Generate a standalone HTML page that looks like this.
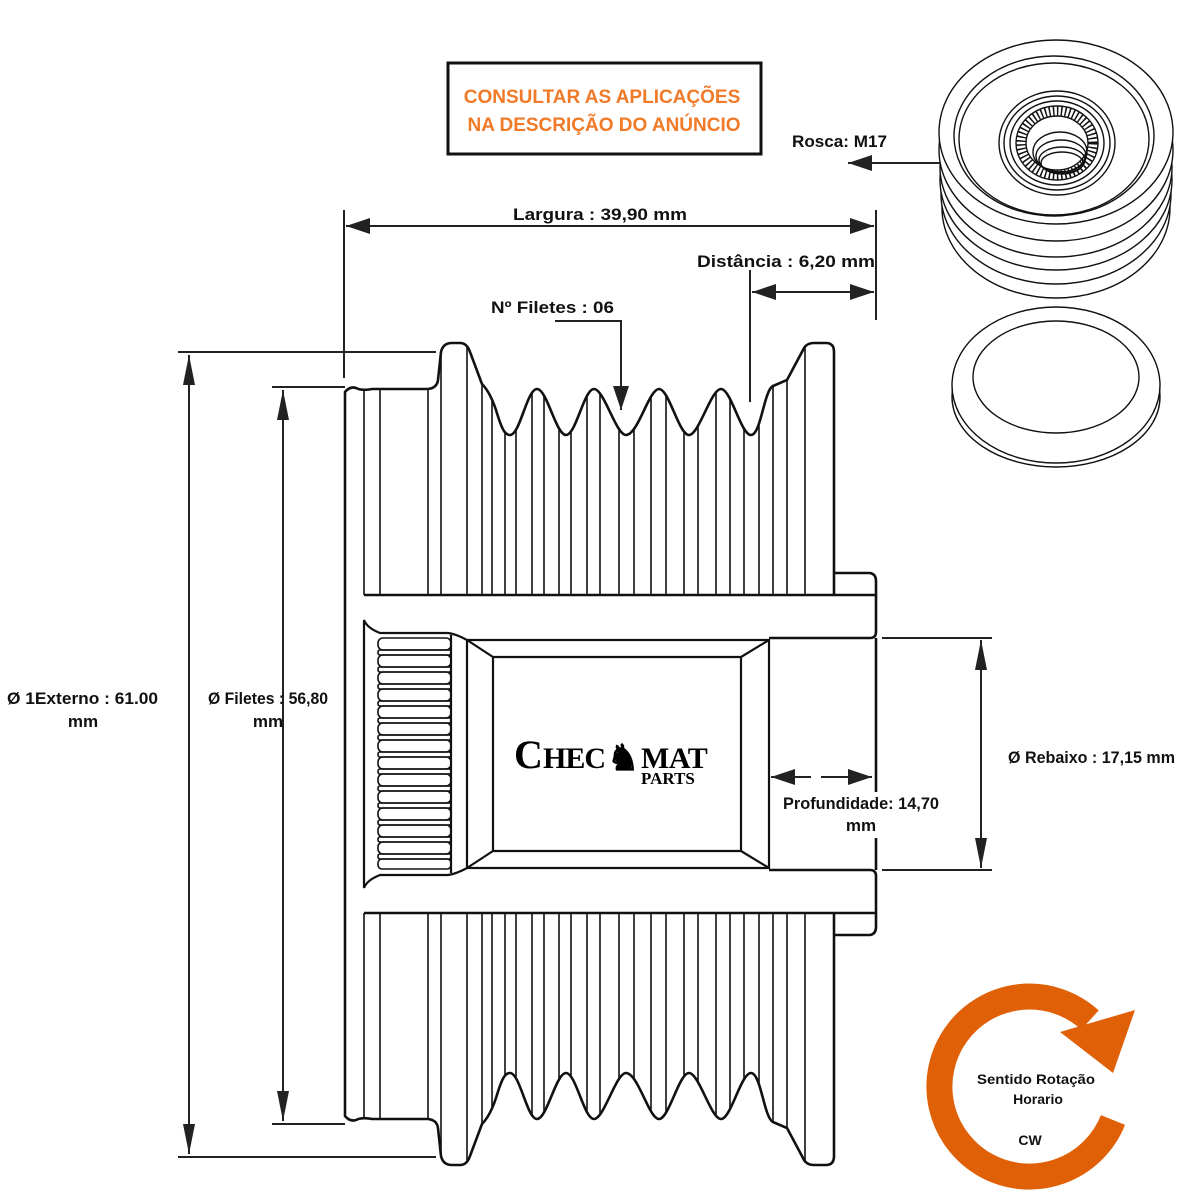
<!DOCTYPE html>
<html><head><meta charset="utf-8"><style>
html,body{margin:0;padding:0;background:#fff;}
svg{display:block;}
.t{font-family:"Liberation Sans",sans-serif;font-weight:bold;font-size:17px;fill:#111;}
</style></head><body>
<svg width="1200" height="1200" viewBox="0 0 1200 1200" xmlns="http://www.w3.org/2000/svg">
<defs>
<clipPath id="prof"><path d="M345,595 L345,392 Q350,386 356,388 Q362,391 372,389 L428,389 Q437,388 438,380 L441,352 Q443,343 452,343 L460,343 Q467,343 470,352 L482,384 Q490,392 496,410 C502,430 505,435 510,435 C520,435 527,389 537,389 C547,389 556,435 566,435 C576,435 584,389 594,389 C604,389 616,435 626,435 C638,435 649,389 659,389 C669,389 679,435 689,435 C699,435 711,389 721,389 C731,389 741,435 751,435 C761,435 764,390 773,386 L787,380 L803,350 Q806,343 814,343 L826,343 Q834,343 834,352 L834,595 Z"/></clipPath>
<g id="upper">
<g clip-path="url(#prof)" stroke="#111" stroke-width="1.6">
<line x1="364" y1="300" x2="364" y2="595"/><line x1="380" y1="300" x2="380" y2="595"/><line x1="428" y1="300" x2="428" y2="595"/>
<line x1="441" y1="300" x2="441" y2="595"/><line x1="467" y1="300" x2="467" y2="595"/><line x1="482" y1="300" x2="482" y2="595"/>
<line x1="492" y1="300" x2="492" y2="595"/><line x1="505" y1="300" x2="505" y2="595"/><line x1="516" y1="300" x2="516" y2="595"/>
<line x1="532" y1="300" x2="532" y2="595"/><line x1="544" y1="300" x2="544" y2="595"/><line x1="559" y1="300" x2="559" y2="595"/>
<line x1="571" y1="300" x2="571" y2="595"/><line x1="587" y1="300" x2="587" y2="595"/><line x1="600" y1="300" x2="600" y2="595"/>
<line x1="619" y1="300" x2="619" y2="595"/><line x1="634" y1="300" x2="634" y2="595"/><line x1="651" y1="300" x2="651" y2="595"/>
<line x1="666" y1="300" x2="666" y2="595"/><line x1="684" y1="300" x2="684" y2="595"/><line x1="698" y1="300" x2="698" y2="595"/>
<line x1="716" y1="300" x2="716" y2="595"/><line x1="730" y1="300" x2="730" y2="595"/><line x1="744" y1="300" x2="744" y2="595"/>
<line x1="759" y1="300" x2="759" y2="595"/><line x1="773" y1="300" x2="773" y2="595"/><line x1="787" y1="300" x2="787" y2="595"/>
<line x1="805" y1="300" x2="805" y2="595"/>
</g>
<path fill="none" stroke="#111" stroke-width="2.6" d="M345,754 L345,392 Q350,386 356,388 Q362,391 372,389 L428,389 Q437,388 438,380 L441,352 Q443,343 452,343 L460,343 Q467,343 470,352 L482,384 Q490,392 496,410 C502,430 505,435 510,435 C520,435 527,389 537,389 C547,389 556,435 566,435 C576,435 584,389 594,389 C604,389 616,435 626,435 C638,435 649,389 659,389 C669,389 679,435 689,435 C699,435 711,389 721,389 C731,389 741,435 751,435 C761,435 764,390 773,386 L787,380 L803,350 Q806,343 814,343 L826,343 Q834,343 834,352 L834,595"/>
<path fill="none" stroke="#111" stroke-width="2.6" d="M834,573 L870,573 Q876,574 876,581 L876,632 Q876,638 870,638 L769,638 M876,638 L876,754 M364,595 L876,595"/>
<path fill="none" stroke="#111" stroke-width="2.2" d="M364,754 L364,620 Q367,628 380,633 L448,633 Q456,634 467,640 L769,640 L769,754 M451,635 L451,754 M467,640 L467,754 M493,657 L741,657 M493,657 L493,754 M741,657 L741,754 M467,640 L493,657 M769,640 L741,657"/>
</g>
<marker id="ah" viewBox="0 0 30 12" refX="30" refY="6" markerWidth="30" markerHeight="12" markerUnits="userSpaceOnUse" orient="auto-start-reverse"><path d="M0,0 L30,6 L0,12 Z" fill="#222"/></marker>
<marker id="ah2" viewBox="0 0 24 16" refX="24" refY="8" markerWidth="24" markerHeight="16" markerUnits="userSpaceOnUse" orient="auto-start-reverse"><path d="M0,0 L24,8 L0,16 Z" fill="#222"/></marker>
</defs>

<use href="#upper"/>
<use href="#upper" transform="translate(0,1508) scale(1,-1)"/>

<g fill="none" stroke="#111" stroke-width="1.6">
<rect x="378" y="638" width="73" height="12" rx="5"/><rect x="378" y="650" width="73" height="5" rx="2"/>
<rect x="378" y="655" width="73" height="12" rx="5"/><rect x="378" y="667" width="73" height="5" rx="2"/>
<rect x="378" y="672" width="73" height="12" rx="5"/><rect x="378" y="684" width="73" height="5" rx="2"/>
<rect x="378" y="689" width="73" height="12" rx="5"/><rect x="378" y="701" width="73" height="5" rx="2"/>
<rect x="378" y="706" width="73" height="12" rx="5"/><rect x="378" y="718" width="73" height="5" rx="2"/>
<rect x="378" y="723" width="73" height="12" rx="5"/><rect x="378" y="735" width="73" height="5" rx="2"/>
<rect x="378" y="740" width="73" height="12" rx="5"/><rect x="378" y="752" width="73" height="5" rx="2"/>
<rect x="378" y="757" width="73" height="12" rx="5"/><rect x="378" y="769" width="73" height="5" rx="2"/>
<rect x="378" y="774" width="73" height="12" rx="5"/><rect x="378" y="786" width="73" height="5" rx="2"/>
<rect x="378" y="791" width="73" height="12" rx="5"/><rect x="378" y="803" width="73" height="5" rx="2"/>
<rect x="378" y="808" width="73" height="12" rx="5"/><rect x="378" y="820" width="73" height="5" rx="2"/>
<rect x="378" y="825" width="73" height="12" rx="5"/><rect x="378" y="837" width="73" height="5" rx="2"/>
<rect x="378" y="842" width="73" height="12" rx="5"/><rect x="378" y="854" width="73" height="5" rx="2"/>
<rect x="378" y="859" width="73" height="10" rx="4"/>
</g>

<g font-family="Liberation Serif,serif" font-weight="bold" fill="#000">
<text x="514" y="768" font-size="40">C</text>
<text x="543" y="768" font-size="30" letter-spacing="-1">HEC</text>
<text x="607" y="770" font-size="36">♞</text>
<text x="641" y="768" font-size="30" letter-spacing="-0.5">MAT</text>
<text x="641" y="784" font-size="17">PARTS</text>
</g>

<g stroke="#222" stroke-width="2" fill="none">
<line x1="178" y1="352" x2="436" y2="352"/><line x1="178" y1="1157" x2="436" y2="1157"/>
<line x1="189" y1="355" x2="189" y2="1154" marker-start="url(#ah)" marker-end="url(#ah)"/>
<line x1="272" y1="387" x2="345" y2="387"/><line x1="272" y1="1124" x2="345" y2="1124"/>
<line x1="283" y1="390" x2="283" y2="1121" marker-start="url(#ah)" marker-end="url(#ah)"/>
<line x1="344" y1="210" x2="344" y2="378"/><line x1="876" y1="210" x2="876" y2="320"/>
<line x1="346" y1="226" x2="874" y2="226" marker-start="url(#ah2)" marker-end="url(#ah2)"/>
<line x1="750" y1="270" x2="750" y2="402"/>
<line x1="752" y1="292" x2="874" y2="292" marker-start="url(#ah2)" marker-end="url(#ah2)"/>
<polyline points="555,321 621,321 621,410" marker-end="url(#ah2)"/>
<line x1="1030" y1="163" x2="848" y2="163" marker-end="url(#ah2)"/>
<line x1="882" y1="638" x2="992" y2="638"/><line x1="882" y1="870" x2="992" y2="870"/>
<line x1="981" y1="640" x2="981" y2="868" marker-start="url(#ah)" marker-end="url(#ah)"/>
<line x1="771" y1="777" x2="872" y2="777" stroke-dasharray="40,10,60" marker-start="url(#ah2)" marker-end="url(#ah2)"/>
</g>

<rect x="448" y="63" width="313" height="91" fill="#fff" stroke="#111" stroke-width="3"/>
<text x="602" y="103" text-anchor="middle" font-family="Liberation Sans,sans-serif" font-weight="bold" font-size="19" fill="#f07a28">CONSULTAR AS APLICAÇÕES</text>
<text x="604" y="131" text-anchor="middle" font-family="Liberation Sans,sans-serif" font-weight="bold" font-size="19" fill="#f07a28">NA DESCRIÇÃO DO ANÚNCIO</text>
<text class="t" x="513" y="220" textLength="174" lengthAdjust="spacingAndGlyphs">Largura : 39,90 mm</text>
<text class="t" x="697" y="267" textLength="178" lengthAdjust="spacingAndGlyphs">Distância : 6,20 mm</text>
<text class="t" x="491" y="313" textLength="123" lengthAdjust="spacingAndGlyphs">Nº Filetes : 06</text>
<text class="t" x="792" y="147" textLength="95" lengthAdjust="spacingAndGlyphs">Rosca: M17</text>
<text class="t" x="7" y="704" textLength="151" lengthAdjust="spacingAndGlyphs">Ø 1Externo : 61.00</text>
<text class="t" x="83" y="727" text-anchor="middle">mm</text>
<text class="t" x="208" y="704" textLength="120" lengthAdjust="spacingAndGlyphs">Ø Filetes : 56,80</text>
<text class="t" x="268" y="727" text-anchor="middle">mm</text>
<text class="t" x="1008" y="763" textLength="167" lengthAdjust="spacingAndGlyphs">Ø Rebaixo : 17,15 mm</text>
<rect x="782" y="792" width="160" height="46" fill="#fff"/>
<text class="t" x="783" y="809" textLength="156" lengthAdjust="spacingAndGlyphs">Profundidade: 14,70</text>
<text class="t" x="861" y="831" text-anchor="middle">mm</text>

<g stroke="#111" stroke-width="1.4" fill="#fff">
<ellipse cx="1056" cy="208" rx="114" ry="90"/>
<ellipse cx="1056" cy="194" rx="115" ry="90"/>
<ellipse cx="1056" cy="180" rx="116" ry="90"/>
<ellipse cx="1056" cy="167" rx="116" ry="90"/>
<ellipse cx="1056" cy="150" rx="117" ry="91"/>
<ellipse cx="1056" cy="132" rx="117" ry="92"/>
<ellipse cx="1054" cy="136" rx="100" ry="80" fill="none"/>
<ellipse cx="1054" cy="139" rx="95" ry="76" fill="none"/>
<ellipse cx="1057" cy="143" rx="58" ry="52" fill="none"/>
<ellipse cx="1057" cy="143" rx="53" ry="47" fill="none"/>
<ellipse cx="1057" cy="143" rx="47" ry="42" fill="none"/>
<ellipse cx="1057" cy="143" rx="41" ry="37" fill="none"/>
<ellipse cx="1057" cy="143" rx="36" ry="32" fill="none" stroke-width="9" stroke-dasharray="1.5,2.5"/>
<ellipse cx="1057" cy="143" rx="31" ry="27" fill="none"/>
<ellipse cx="1060" cy="152" rx="27" ry="20" fill="none"/>
<ellipse cx="1061" cy="156" rx="25" ry="16" fill="none"/>
<ellipse cx="1062" cy="160" rx="23" ry="13" fill="none"/>
<ellipse cx="1062" cy="163" rx="21" ry="11" fill="none"/>
<ellipse cx="1056" cy="397" rx="104" ry="70"/>
<ellipse cx="1056" cy="385" rx="104" ry="78"/>
<ellipse cx="1056" cy="377" rx="83" ry="56" fill="none"/>
</g>

<path d="M1113,1120 A90,90 0 1 1 1090,1020" fill="none" stroke="#e06008" stroke-width="26"/>
<path d="M1060,1032 L1135,1010 L1113,1073 Z" fill="#e06008"/>
<g font-family="Liberation Sans,sans-serif" font-weight="bold" font-size="14" fill="#111">
<text x="977" y="1084" textLength="118" lengthAdjust="spacingAndGlyphs">Sentido Rotação</text>
<text x="1038" y="1104" text-anchor="middle">Horario</text>
<text x="1030" y="1145" text-anchor="middle">CW</text>
</g>
</svg>
</body></html>
